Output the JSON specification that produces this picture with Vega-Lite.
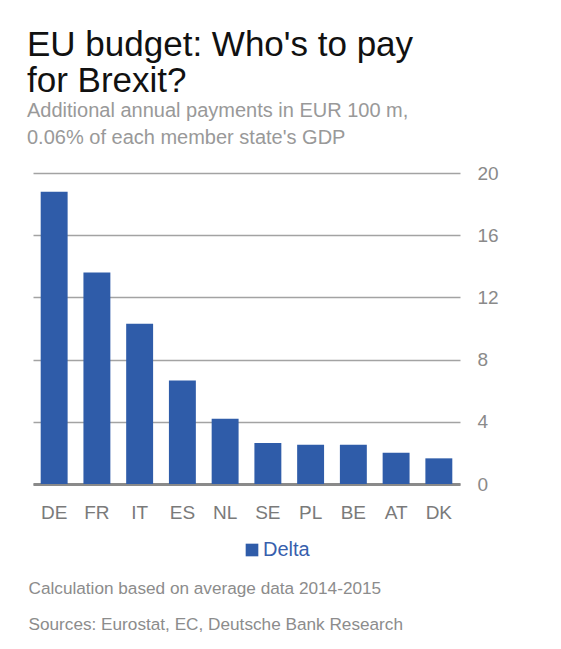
{
  "$schema": "https://vega.github.io/schema/vega-lite/v6.json",
  "autosize": {"type": "none"},
  "width": 427,
  "height": 311,
  "padding": {"left": 33, "top": 173, "right": 101, "bottom": 165},
  "background": "white",
  "config": {
    "font": "Liberation Sans",
    "view": {"stroke": null}
  },
  "title": {
    "text": ["EU budget: Who's to pay", "for Brexit?"],
    "subtitle": ["Additional annual payments in EUR 100 m,", "0.06% of each member state's GDP"],
    "anchor": "start",
    "frame": "group",
    "dx": -6,
    "fontSize": 35,
    "fontWeight": "normal",
    "lineHeight": 36.5,
    "color": "#111111",
    "subtitleFontSize": 20,
    "subtitleLineHeight": 26.7,
    "subtitleColor": "#999999",
    "subtitlePadding": 2,
    "offset": 16
  },
  "data": {
    "values": [
      {"country": "DE", "value": 18.8, "series": "Delta"},
      {"country": "FR", "value": 13.6, "series": "Delta"},
      {"country": "IT", "value": 10.3, "series": "Delta"},
      {"country": "ES", "value": 6.65, "series": "Delta"},
      {"country": "NL", "value": 4.2, "series": "Delta"},
      {"country": "SE", "value": 2.64, "series": "Delta"},
      {"country": "PL", "value": 2.53, "series": "Delta"},
      {"country": "BE", "value": 2.53, "series": "Delta"},
      {"country": "AT", "value": 2.01, "series": "Delta"},
      {"country": "DK", "value": 1.65, "series": "Delta"}
    ]
  },
  "mark": {"type": "bar"},
  "encoding": {
    "x": {
      "field": "country",
      "type": "nominal",
      "sort": null,
      "scale": {"paddingInner": 0.37, "paddingOuter": 0.18},
      "axis": {
        "labelAngle": 0,
        "labelFontSize": 19,
        "labelColor": "#7a7a7a",
        "labelPadding": 19,
        "ticks": false,
        "domain": true,
        "domainColor": "#8a8a8a",
        "domainWidth": 3,
        "grid": false,
        "title": ["Calculation based on average data 2014-2015", "Sources: Eurostat, EC, Deutsche Bank Research"],
        "titleFontSize": 17.2,
        "titleFontWeight": "normal",
        "titleColor": "#8c8c8c",
        "titleAnchor": "start",
        "titleAlign": "left",
        "titleBaseline": "alphabetic",
        "titleLineHeight": 36.7,
        "titleX": -5,
        "titleY": 109
      }
    },
    "y": {
      "field": "value",
      "type": "quantitative",
      "scale": {"domain": [0, 20], "nice": false},
      "axis": {
        "orient": "right",
        "values": [0, 4, 8, 12, 16, 20],
        "grid": true,
        "gridColor": "#a3a3a3",
        "gridWidth": 1.3,
        "domain": false,
        "ticks": false,
        "labelFontSize": 19,
        "labelColor": "#8a8a8a",
        "labelPadding": 17,
        "title": null
      }
    },
    "color": {
      "field": "series",
      "type": "nominal",
      "scale": {"range": ["#2f5ca9"]},
      "legend": {
        "title": null,
        "orient": "none",
        "legendX": 209,
        "legendY": 367,
        "symbolType": "square",
        "symbolSize": 160,
        "symbolStrokeWidth": 0,
        "labelFontSize": 20,
        "labelColor": "#3760ad",
        "labelOffset": 1,
        "padding": 0
      }
    }
  }
}
